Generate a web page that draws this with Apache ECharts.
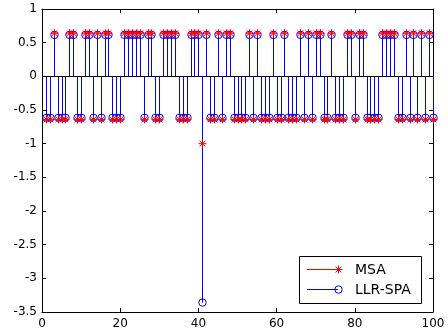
<!DOCTYPE html>
<html><head><meta charset="utf-8">
<script src="https://cdn.jsdelivr.net/npm/echarts@6/dist/echarts.min.js"></script>
<style>html,body{margin:0;padding:0;background:#fff}#c{width:448px;height:332px}</style>
</head><body><div id="c"></div>
<script>
const xIndex = [1,2,3,4,5,6,7,8,9,10,11,12,13,14,15,16,17,18,19,20,21,22,23,24,25,26,27,28,29,30,31,32,33,34,35,36,37,38,39,40,41,42,43,44,45,46,47,48,49,50,51,52,53,54,55,56,57,58,59,60,61,62,63,64,65,66,67,68,69,70,71,72,73,74,75,76,77,78,79,80,81,82,83,84,85,86,87,88,89,90,91,92,93,94,95,96,97,98,99,100];
const msaValues = [-0.64,-0.64,0.64,-0.64,-0.64,-0.64,0.64,0.64,-0.64,-0.64, 0.64,0.64,-0.64,0.64,-0.64,0.64,0.64,-0.64,-0.64,-0.64, 0.64,0.64,0.64,0.64,0.64,-0.64,0.64,0.64,-0.64,-0.64, 0.64,0.64,0.64,0.64,-0.64,-0.64,-0.64,0.64,0.64,0.64, -1.0,0.64,-0.64,-0.64,0.64,-0.64,0.64,0.64,-0.64,-0.64, -0.64,-0.64,0.64,-0.64,0.64,-0.64,-0.64,-0.64,0.64,-0.64, -0.64,0.64,-0.64,-0.64,-0.64,0.64,-0.64,0.64,-0.64,0.64, 0.64,-0.64,-0.64,0.64,-0.64,-0.64,-0.64,0.64,0.64,-0.64, 0.64,0.64,-0.64,-0.64,-0.64,-0.64,0.64,0.64,0.64,0.64, -0.64,-0.64,0.64,-0.64,0.64,-0.64,0.64,-0.64,0.64,-0.64];
const llrValues = [-0.615,-0.615,0.615,-0.615,-0.615,-0.615,0.615,0.615,-0.615,-0.615, 0.615,0.615,-0.615,0.615,-0.615,0.615,0.615,-0.615,-0.615,-0.615, 0.615,0.615,0.615,0.615,0.615,-0.615,0.615,0.615,-0.615,-0.615, 0.615,0.615,0.615,0.615,-0.615,-0.615,-0.615,0.615,0.615,0.615, -3.36,0.615,-0.615,-0.615,0.615,-0.615,0.615,0.615,-0.615,-0.615, -0.615,-0.615,0.615,-0.615,0.615,-0.615,-0.615,-0.615,0.615,-0.615, -0.615,0.615,-0.615,-0.615,-0.615,0.615,-0.615,0.615,-0.615,0.615, 0.615,-0.615,-0.615,0.615,-0.615,-0.615,-0.615,0.615,0.615,-0.615, 0.615,0.615,-0.615,-0.615,-0.615,-0.615,0.615,0.615,0.615,0.615, -0.615,-0.615,0.615,-0.615,0.615,-0.615,0.615,-0.615,0.615,-0.615];
const seriesNames = ['MSA', 'LLR-SPA'];
const xRange = [0, 100, 20];
const yRange = [-3.5, 1, 0.5];

const RED = '#ff0000', BLUE = '#0000ff';
const FONT = 'DejaVu Sans';

function starShapes(cx, cy, color, r, z) {
  const d = r * 0.72;
  const segs = [[-r,0,r,0],[0,-r,0,r],[-d,-d,d,d],[-d,d,d,-d]];
  return segs.map(s => {
    const el = {type:'polyline', shape:{points:[[cx+s[0],cy+s[1]],[cx+s[2],cy+s[3]]]}, style:{stroke:color,fill:null,lineWidth:1}};
    if (z != null) el.z = z;
    return el;
  });
}
function stemRender(color) {
  return function (params, api) {
    const x = api.value(0), y = api.value(1);
    const p0 = api.coord([x, 0]), p1 = api.coord([x, y]);
    const px = Math.round(p0[0]) + 0.5;
    return {type:'line', shape:{x1:px,y1:p0[1],x2:px,y2:p1[1]}, style:{stroke:color,lineWidth:1}};
  };
}
function markerRender(kind, color) {
  return function (params, api) {
    const x = api.value(0), y = api.value(1);
    const p1 = api.coord([x, y]);
    const px = Math.round(p1[0]) + 0.5;
    if (kind === 'star') return {type:'group', children:starShapes(px, p1[1], color, 4)};
    return {type:'circle', shape:{cx:px, cy:p1[1], r:3.7}, style:{fill:'none', stroke:color, lineWidth:1}};
  };
}
function mkData(vals) { return xIndex.map((x, i) => [x, vals[i]]); }

function axisCommon(isX, pos, showLabel) {
  const r = isX ? xRange : yRange;
  return {
    type:'value', min:r[0], max:r[1], interval:r[2], position:pos,
    axisLine:{show:true, onZero:false, lineStyle:{color:'#000', width:1}},
    axisTick:{show:true, inside:true, length:4, lineStyle:{color:'#000'}},
    axisLabel:{show:showLabel, color:'#000', fontFamily:FONT, fontSize:12, margin:isX ? 6 : 5},
    splitLine:{show:false}
  };
}

const legendGraphics = [
  {type:'rect', shape:{x:299.5, y:256.5, width:122, height:47}, style:{fill:'#fff', stroke:'#000', lineWidth:1}, z:100},
  {type:'rect', shape:{x:307, y:269, width:31, height:1}, style:{fill:RED, stroke:null}, z:101},
  ...starShapes(338.5, 269.5, RED, 4, 102),
  {type:'text', x:355, y:270, style:{text:seriesNames[0], font:'14px "DejaVu Sans"', fill:'#000', verticalAlign:'middle'}, z:101},
  {type:'rect', shape:{x:307, y:289, width:31, height:1}, style:{fill:BLUE, stroke:null}, z:101},
  {type:'circle', shape:{cx:338.5, cy:289.5, r:3.7}, style:{fill:'none', stroke:BLUE, lineWidth:1}, z:102},
  {type:'text', x:355, y:290, style:{text:seriesNames[1], font:'14px "DejaVu Sans"', fill:'#000', verticalAlign:'middle'}, z:101}
];

const chart = echarts.init(document.getElementById('c'), null, {renderer:'canvas'});
chart.setOption({
  animation:false,
  backgroundColor:'#fff',
  grid:{left:42, right:15, top:9, bottom:20, containLabel:false},
  xAxis:[axisCommon(true,'bottom',true), axisCommon(true,'top',false)],
  yAxis:[axisCommon(false,'left',true), axisCommon(false,'right',false)],
  series:[
    {name:seriesNames[0], type:'custom', renderItem:stemRender(RED), data:mkData(msaValues), encode:{x:0,y:1}, z:2},
    {name:seriesNames[1], type:'custom', renderItem:stemRender(BLUE), data:mkData(llrValues), encode:{x:0,y:1}, z:2,
     markLine:{silent:true, symbol:'none', label:{show:false}, lineStyle:{color:'#000', width:1, type:'solid'}, data:[{yAxis:0}]}},
    {name:seriesNames[1], type:'custom', renderItem:markerRender('circle', BLUE), data:mkData(llrValues), encode:{x:0,y:1}, z:4},
    {name:seriesNames[0], type:'custom', renderItem:markerRender('star', RED), data:mkData(msaValues), encode:{x:0,y:1}, z:5}
  ],
  graphic:legendGraphics
});
</script></body></html>
